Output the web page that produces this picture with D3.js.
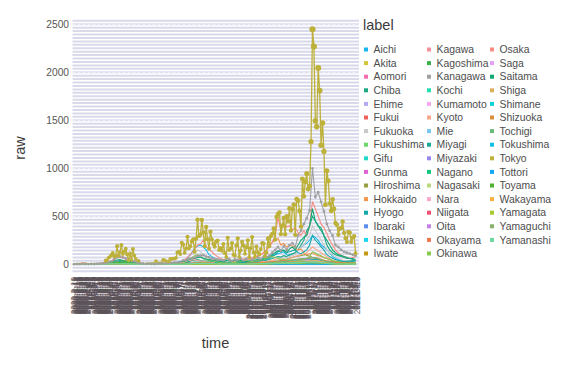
<!DOCTYPE html>
<html>
<head>
<meta charset="utf-8">
<script src="https://cdn.jsdelivr.net/npm/d3@7"></script>
<style>
body { margin: 0; background: #fff; }
text { font-family: "Liberation Sans", Arial, sans-serif; }
</style>
</head>
<body>
<svg width="567" height="378"></svg>
<script>
// prefectures in legend order, and their colours
var labels = ["Aichi","Akita","Aomori","Chiba","Ehime","Fukui","Fukuoka","Fukushima","Gifu","Gunma",
  "Hiroshima","Hokkaido","Hyogo","Ibaraki","Ishikawa","Iwate","Kagawa","Kagoshima","Kanagawa","Kochi",
  "Kumamoto","Kyoto","Mie","Miyagi","Miyazaki","Nagano","Nagasaki","Nara","Niigata","Oita",
  "Okayama","Okinawa","Osaka","Saga","Saitama","Shiga","Shimane","Shizuoka","Tochigi","Tokushima",
  "Tokyo","Tottori","Toyama","Wakayama","Yamagata","Yamaguchi","Yamanashi"];
var colors = ["#1ab8f0","#d4c63c","#f06eb0","#1ba882","#b9a8f2","#f0605c","#c8c8c8","#6ed86e","#1ed8c8","#de64d6",
  "#96a040","#f5964a","#16a8a8","#5c8ef0","#1cd8ee","#c49a14","#f4909a","#3ab04a","#a0a0a0","#20e0b0",
  "#f4a8f0","#f8a888","#78c4f4","#1aa89a","#9a88f0","#14c87a","#bcd880","#f8a8c8","#f05070","#c080e8",
  "#f07850","#88c850","#f88c80","#e4a0f4","#10a870","#ddb060","#10d0d8","#d89040","#6cb878","#10c0e8",
  "#bdb13a","#10a8f0","#50b030","#f8b040","#a8c830","#88b068","#6cd8a0"];

var firstDay = "2020-02-10";
var lastDay = "2021-03-10";
var tokyoStep = 2;   // days between values
var majorStep = 4;
var minorStep = 14;
var yTicks = [0, 500, 1000, 1500, 2000, 2500];

var tokyo = [0,1,2,8,3,3,1,2,3,1,
  1,2,8,6,0,7,2,2,6,10,7,16,41,40,68,78,
  97,118,83,87,189,91,127,201,107,132,161,103,39,112,46,
  160,91,57,23,36,15,10,9,5,11,14,8,15,14,14,
  13,34,28,13,22,18,47,41,35,29,31,57,54,60,58,
  67,124,131,106,224,206,119,165,286,168,188,238,260,131,266,463,
  292,309,462,331,188,389,260,161,339,258,212,182,236,247,148,
  170,141,211,116,77,276,149,163,220,98,88,195,270,78,144,
  235,196,108,177,249,78,166,284,124,78,186,124,102,158,221,215,
  87,122,269,189,293,317,374,255,493,522,539,314,401,481,311,
  500,449,584,352,572,621,305,678,664,556,392,888,708,856,944,
  783,814,1278,2447,2268,1494,1433,2044,1809,1240,1471,1175,618,973,868,633,
  556,676,577,429,412,307,371,378,445,327,272,232,337,329,
  232,279,293,116];

var kanagawa = [1,3,2,4,3,2,4,3,5,6, 8,12,25,30,50,72,80,70,60,45, 40,30,20,12,8,5,6,4,3,5,
  6,8,10,12,15,20,18,25,40,35, 55,60,70,85,90,95,80,75,60,55, 50,45,40,60,55,35,50,45,60,40,
  55,70,45,65,70,55,80,75,90,120, 150,180,140,190,150,200,220,180,300,350,
  420,480,560,999,700,750,650,550,420,350, 300,200,180,150,130,120,110,100,90];
var osaka = [0,0,0,2,3,5,6,8,10,12, 15,18,20,35,60,90,70,80,60,40, 35,20,10,5,3,2,1,2,0,1,
  2,3,1,2,3,5,8,10,30,60, 90,120,160,200,210,250,190,150,130,100, 80,60,50,40,45,30,35,40,50,55,
  60,70,65,80,90,100,120,150,180,230, 300,490,350,420,390,400,360,380,330,300,
  350,300,400,654,580,500,420,380,320,250, 200,150,120,90,80,70,60,70,80];
var saitama = [0,0,0,0,1,2,2,3,4,5, 8,10,15,20,30,45,50,40,35,30, 25,20,10,5,3,2,2,1,2,3,
  5,6,8,10,12,15,20,25,30,35, 50,60,65,70,75,60,55,50,45,40, 35,30,25,40,35,30,45,30,40,25,
  30,35,40,45,50,40,60,70,80,100, 120,140,130,150,120,160,180,150,200,250,
  280,300,400,580,450,400,380,300,250,200, 150,120,100,90,80,70,60,60,50];
var chiba = [0,0,0,1,2,2,3,5,4,6, 8,10,15,20,25,35,40,30,25,20, 15,10,5,3,2,1,1,2,1,2,
  3,4,3,5,6,8,10,15,20,25, 30,40,45,50,40,35,30,25,20,18, 20,25,20,18,15,20,22,18,20,15,
  20,25,30,28,30,35,40,45,50,60, 70,80,75,90,80,100,110,120,150,200,
  250,350,400,500,450,400,350,300,200,150, 120,100,90,80,70,60,60,50,40];
var aichi = [2,4,5,6,5,4,3,3,2,2, 3,5,8,10,15,20,25,15,10,8, 5,3,2,1,0,0,0,0,0,1,
  0,1,0,1,2,3,5,10,20,40, 80,120,170,190,200,180,150,100,80,60, 50,40,30,20,15,10,8,10,12,15,
  10,12,15,20,25,30,40,50,60,80, 100,110,120,130,100,90,110,120,150,180,
  200,220,250,300,280,250,200,180,150,120, 80,60,50,40,30,20,15,12,10];
var hokkaido = [2,5,10,15,12,8,5,3,2,1, 1,2,3,5,10,20,30,40,35,30, 25,20,15,10,8,5,6,8,10,5,
  3,2,1,2,3,2,4,5,6,8, 10,12,15,20,18,15,12,10,8,10, 8,10,12,15,10,12,10,15,20,25,
  40,50,60,70,80,100,120,150,200,230, 250,270,200,220,180,200,190,170,150,160,
  120,100,110,120,100,90,80,70,60,50, 40,30,25,20,15,20,25,20,15];
var fukuoka = [0,0,0,1,1,2,1,2,2,3, 5,8,15,25,35,40,30,20,15,10, 5,3,1,0,0,0,0,1,5,20,
  10,5,3,2,1,2,5,10,30,60, 80,100,120,150,130,100,80,60,40,30, 20,15,10,8,5,8,5,10,8,5,
  8,10,12,8,10,15,20,25,30,35, 40,45,50,60,70,80,90,100,150,180,
  200,250,300,400,350,300,250,200,150,120, 100,80,60,50,40,30,25,20,15];
var hyogo = [0,0,0,0,1,2,5,8,10,8, 10,15,20,30,40,35,30,25,20,15, 10,5,3,2,1,0,0,0,0,0,
  0,1,0,0,1,2,3,5,10,20, 40,50,60,70,80,60,50,40,30,25, 20,15,12,10,8,10,12,10,15,12,
  15,18,20,22,25,30,40,50,70,90, 100,130,150,140,120,130,140,150,120,110,
  130,150,200,300,250,220,180,150,100,80, 60,50,40,30,25,20,25,30,35];
var kyoto = [0,0,0,1,1,2,3,3,5,6, 8,10,15,20,25,20,15,12,10,8, 5,3,2,1,0,0,0,0,0,0,
  1,0,2,1,3,2,5,10,20,30, 40,45,50,40,35,30,25,20,15,10, 8,6,5,8,6,5,8,10,12,10,
  15,12,10,15,20,25,30,25,35,40, 50,60,55,50,45,60,70,80,90,100,
  110,120,150,180,160,140,120,100,80,60, 40,30,25,20,15,12,10,15,12];
var okinawa = [0,0,0,1,1,0,1,0,0,1, 2,3,5,8,10,6,4,3,2,1, 0,0,0,0,0,0,0,0,0,0,
  0,0,0,0,0,0,1,5,10,30, 50,70,90,100,80,60,50,40,35,30, 25,20,15,12,10,15,20,25,30,35,
  30,25,30,35,40,45,50,60,70,80, 70,60,50,55,40,45,35,30,40,45,
  50,60,80,130,120,100,90,70,60,50, 40,30,25,20,15,12,10,15,20];

var akita = [0,0,0,0,2,3,1,0,0,0, 0,0,1,2,1,0,0,1,0,2, 3,2,5,4,6,3,1,0,1];
var aomori = [0,0,0,0,3,5,2,0,0,0, 0,0,1,2,1,0,0,1,2,5, 10,8,15,10,8,5,2,1,1];
var ehime = [0,0,0,0,4,6,3,0,0,0, 0,0,2,3,2,1,0,1,2,3, 5,8,20,15,10,5,2,2,3];
var fukui = [0,0,0,2,8,10,3,0,0,0, 0,0,3,5,2,1,0,1,0,1, 2,1,2,3,5,2,0,0,0];
var fukushima = [0,0,1,0,3,5,2,0,0,0, 0,1,3,5,2,2,3,4,5,10, 12,15,20,30,25,15,8,5,10];
var gifu = [0,0,2,3,10,12,4,0,0,0, 0,2,20,30,10,5,3,2,5,10, 15,20,30,40,35,15,8,5,4];
var gunma = [0,0,1,3,10,8,3,0,0,0, 0,2,8,10,5,3,4,5,10,20, 25,30,40,50,40,20,10,8,10];
var hiroshima = [0,0,0,2,8,15,3,0,0,0, 0,2,15,12,5,3,2,3,5,8, 20,50,80,100,60,20,8,5,5];
var ibaraki = [0,0,0,2,8,10,3,0,0,0, 0,3,10,15,10,8,10,12,15,20, 25,35,40,60,50,30,15,10,8];
var ishikawa = [0,1,1,3,15,20,5,0,0,0, 0,1,5,10,5,2,2,3,2,5, 8,10,12,15,20,10,5,3,2];
var iwate = [0,0,0,0,0,0,0,0,0,0, 0,0,1,2,1,0,0,1,2,5, 8,10,15,12,10,5,2,1,1];
var kagawa = [0,0,1,0,3,4,1,0,0,0, 0,0,2,3,1,0,0,1,0,2, 5,8,10,15,12,5,1,0,1];
var kagoshima = [0,0,0,1,1,2,0,0,0,0, 0,15,20,10,5,3,2,5,10,8, 15,10,8,12,20,10,5,3,2];
var kochi = [0,0,0,2,6,5,1,0,0,0, 0,0,2,5,2,0,0,1,0,2, 10,20,30,15,8,3,1,0,1];
var kumamoto = [0,0,0,2,5,6,2,0,0,0, 0,3,15,12,5,3,2,3,5,8, 10,12,15,30,40,20,10,5,3];
var mie = [0,0,0,2,5,6,1,0,0,0, 0,3,15,20,8,5,3,2,5,8, 15,20,25,30,35,15,5,3,2];
var miyagi = [0,0,1,2,6,8,2,0,0,0, 0,2,5,8,5,10,15,20,15,10, 20,25,30,40,50,30,20,30,40];
var miyazaki = [0,0,0,1,3,5,1,0,0,0, 0,5,20,15,5,2,1,2,3,5, 8,12,20,30,40,20,8,3,2];
var nagano = [0,0,0,2,8,10,3,0,0,0, 0,1,8,12,5,3,2,3,5,8, 15,20,30,40,35,15,8,5,4];
var nagasaki = [0,0,0,1,3,8,2,0,0,0, 0,2,10,15,5,2,1,2,3,5, 8,10,20,25,30,15,5,3,2];
var nara = [0,0,1,3,6,8,2,0,0,0, 0,3,15,20,10,5,4,5,8,10, 20,25,30,35,40,25,15,10,8];
var niigata = [0,0,1,3,5,6,2,0,0,0, 0,2,5,8,3,2,2,3,5,8, 10,12,15,20,25,10,5,3,2];
var oita = [0,0,0,4,10,8,2,0,0,0, 0,1,5,8,3,1,1,2,3,5, 8,10,12,15,10,5,2,1,1];
var okayama = [0,0,0,1,3,5,1,0,0,0, 0,2,8,10,5,2,2,3,5,10, 20,30,25,20,15,8,5,3,2];
var saga = [0,0,0,1,3,5,2,0,0,0, 0,1,5,10,5,2,1,2,3,5, 8,10,8,12,15,8,3,2,1];
var shiga = [0,0,0,2,6,8,2,0,0,0, 0,2,8,12,5,3,2,3,5,8, 15,20,25,30,35,20,10,5,4];
var shimane = [0,0,0,0,2,3,0,0,0,0, 0,0,2,5,1,0,0,0,0,1, 2,3,2,1,3,2,1,0,0];
var shizuoka = [0,0,0,2,5,8,2,0,0,0, 0,2,15,20,10,5,8,10,15,20, 30,40,50,60,70,40,20,15,10];
var tochigi = [0,0,0,1,5,8,2,0,0,0, 0,3,8,10,5,3,4,5,8,10, 20,30,50,60,70,30,10,5,3];
var tokushima = [0,0,0,1,2,3,0,0,0,0, 0,0,2,5,1,0,0,0,1,2, 3,5,10,15,8,3,1,0,1];
var tottori = [0,0,0,0,1,2,0,0,0,0, 0,0,2,3,1,0,0,0,1,2, 1,2,3,5,3,1,0,0,0];
var toyama = [0,0,1,3,15,25,5,0,0,0, 0,1,5,8,3,2,1,2,3,5, 8,10,12,15,20,10,5,3,2];
var wakayama = [2,3,2,1,3,2,1,0,0,0, 0,1,5,8,3,2,1,2,3,5, 8,12,15,20,25,10,5,3,2];
var yamagata = [0,0,0,2,5,6,1,0,0,0, 0,0,2,3,1,0,0,1,2,3, 5,8,10,15,20,8,3,2,1];
var yamaguchi = [0,0,0,1,3,5,1,0,0,0, 0,2,10,8,3,1,1,2,3,5, 8,15,20,25,15,8,3,2,1];
var yamanashi = [0,0,1,2,5,6,2,0,0,0, 0,2,8,10,5,2,2,3,5,8, 10,12,15,20,25,10,5,3,2];

var valuesByLabel = {
  Aichi: aichi, Akita: akita, Aomori: aomori, Chiba: chiba, Ehime: ehime, Fukui: fukui,
  Fukuoka: fukuoka, Fukushima: fukushima, Gifu: gifu, Gunma: gunma, Hiroshima: hiroshima,
  Hokkaido: hokkaido, Hyogo: hyogo, Ibaraki: ibaraki, Ishikawa: ishikawa, Iwate: iwate,
  Kagawa: kagawa, Kagoshima: kagoshima, Kanagawa: kanagawa, Kochi: kochi, Kumamoto: kumamoto,
  Kyoto: kyoto, Mie: mie, Miyagi: miyagi, Miyazaki: miyazaki, Nagano: nagano, Nagasaki: nagasaki,
  Nara: nara, Niigata: niigata, Oita: oita, Okayama: okayama, Okinawa: okinawa, Osaka: osaka,
  Saga: saga, Saitama: saitama, Shiga: shiga, Shimane: shimane, Shizuoka: shizuoka,
  Tochigi: tochigi, Tokushima: tokushima, Tokyo: tokyo, Tottori: tottori, Toyama: toyama,
  Wakayama: wakayama, Yamagata: yamagata, Yamaguchi: yamaguchi, Yamanashi: yamanashi
};
var majors = ["Aichi","Chiba","Fukuoka","Hokkaido","Hyogo","Kanagawa","Kyoto","Okinawa","Osaka","Saitama"];

var parse = d3.timeParse("%Y-%m-%d");
var start = parse(firstDay), end = parse(lastDay);

var series = labels.map(function(name, i) {
  var step = name === "Tokyo" ? tokyoStep : (majors.indexOf(name) >= 0 ? majorStep : minorStep);
  return {
    name: name,
    color: colors[i],
    values: valuesByLabel[name].map(function(v, k) {
      return {date: d3.timeDay.offset(start, k * step), value: v};
    })
  };
});

var svg = d3.select("svg");
var x = d3.scaleTime().domain([start, end]).range([74, 357]);
var y = d3.scaleLinear().domain([-70, 2565]).range([271, 18]);
var r = d3.scaleSqrt().domain([0, 2500]).range([1.6, 3.1]);

// panel: dense lavender stripes + dashed major lines
var panel = svg.append("g");
panel.selectAll("line.stripe")
  .data(d3.range(-2 * 2500 / 70, 2566, 2500 / 70))
  .enter().append("line")
  .attr("x1", 72.5).attr("x2", 359)
  .attr("y1", function(d) { return y(d); })
  .attr("y2", function(d) { return y(d); })
  .attr("stroke", "#d9d9ec")
  .attr("stroke-width", 2);
panel.selectAll("line.major")
  .data(yTicks).enter().append("line")
  .attr("x1", 72.5).attr("x2", 359)
  .attr("y1", function(d) { return y(d); })
  .attr("y2", function(d) { return y(d); })
  .attr("stroke", "#f4f4fa")
  .attr("stroke-width", 1)
  .attr("stroke-dasharray", "3,2");

var line = d3.line()
  .x(function(d) { return x(d.date); })
  .y(function(d) { return y(d.value); });

svg.append("g").selectAll("path")
  .data(series).enter().append("path")
  .attr("d", function(d) { return line(d.values); })
  .attr("fill", "none")
  .attr("stroke", function(d) { return d.color; })
  .attr("stroke-width", function(d) { return d.name === "Tokyo" ? 1.3 : 1.1; });

// points for Kanagawa and Tokyo
var kana = series.filter(function(s) { return s.name === "Kanagawa"; })[0];
svg.append("g").selectAll("circle")
  .data(kana.values).enter().append("circle")
  .attr("cx", function(d) { return x(d.date); })
  .attr("cy", function(d) { return y(d.value); })
  .attr("r", 1.4)
  .attr("fill", kana.color);

var tk = series.filter(function(s) { return s.name === "Tokyo"; })[0];
svg.append("g").selectAll("circle")
  .data(tk.values.filter(function(d) { return d.value >= 30; })).enter().append("circle")
  .attr("cx", function(d) { return x(d.date); })
  .attr("cy", function(d) { return y(d.value); })
  .attr("r", function(d) { return r(d.value); })
  .attr("fill", tk.color);

// y axis
var yAxis = svg.append("g")
  .attr("transform", "translate(73,0)")
  .call(d3.axisLeft(y).tickValues(yTicks).tickFormat(d3.format("d")).tickSize(0).tickPadding(4));
yAxis.select(".domain").remove();
yAxis.selectAll("text")
  .style("font-size", "10.2px")
  .attr("fill", "#555");

// x axis: one label per day, all overlapping
var days = d3.timeDay.range(start, d3.timeDay.offset(end, 1));
var xAxis = svg.append("g")
  .attr("transform", "translate(0,273)")
  .call(d3.axisBottom(x).tickValues(days).tickFormat(d3.timeFormat("%Y-%-m-%-d")).tickSize(0));
xAxis.select(".domain").remove();
xAxis.selectAll("text")
  .attr("transform", "rotate(-90)")
  .attr("x", -4).attr("y", 0).attr("dy", "0.35em")
  .style("text-anchor", "end")
  .style("font-size", "8.2px")
  .attr("fill", "#5a5258");

// titles
svg.append("text")
  .attr("x", 215.5).attr("y", 348)
  .attr("text-anchor", "middle")
  .style("font-size", "14.5px")
  .attr("fill", "#3a3a3a")
  .text("time");
svg.append("text")
  .attr("transform", "translate(25,148) rotate(-90)")
  .attr("text-anchor", "middle")
  .style("font-size", "14.5px")
  .attr("fill", "#3a3a3a")
  .text("raw");

// legend
var legend = svg.append("g");
legend.append("text")
  .attr("x", 363).attr("y", 30)
  .style("font-size", "14.5px")
  .attr("fill", "#3a3a3a")
  .text("label");
var colX = [364, 427, 490];
var items = legend.selectAll("g.item")
  .data(series).enter().append("g")
  .attr("transform", function(d, i) {
    var c = Math.floor(i / 16), row = i % 16;
    return "translate(" + [colX[c], 49.5 + row * 13.6] + ")";
  });
items.append("rect")
  .attr("x", 0).attr("y", -2).attr("width", 4).attr("height", 4)
  .attr("fill", function(d) { return d.color; });
items.append("text")
  .attr("x", 9.5).attr("dy", "0.35em")
  .style("font-size", "10.4px")
  .attr("fill", "#4d4d4d")
  .text(function(d) { return d.name; });
</script>
</body>
</html>
